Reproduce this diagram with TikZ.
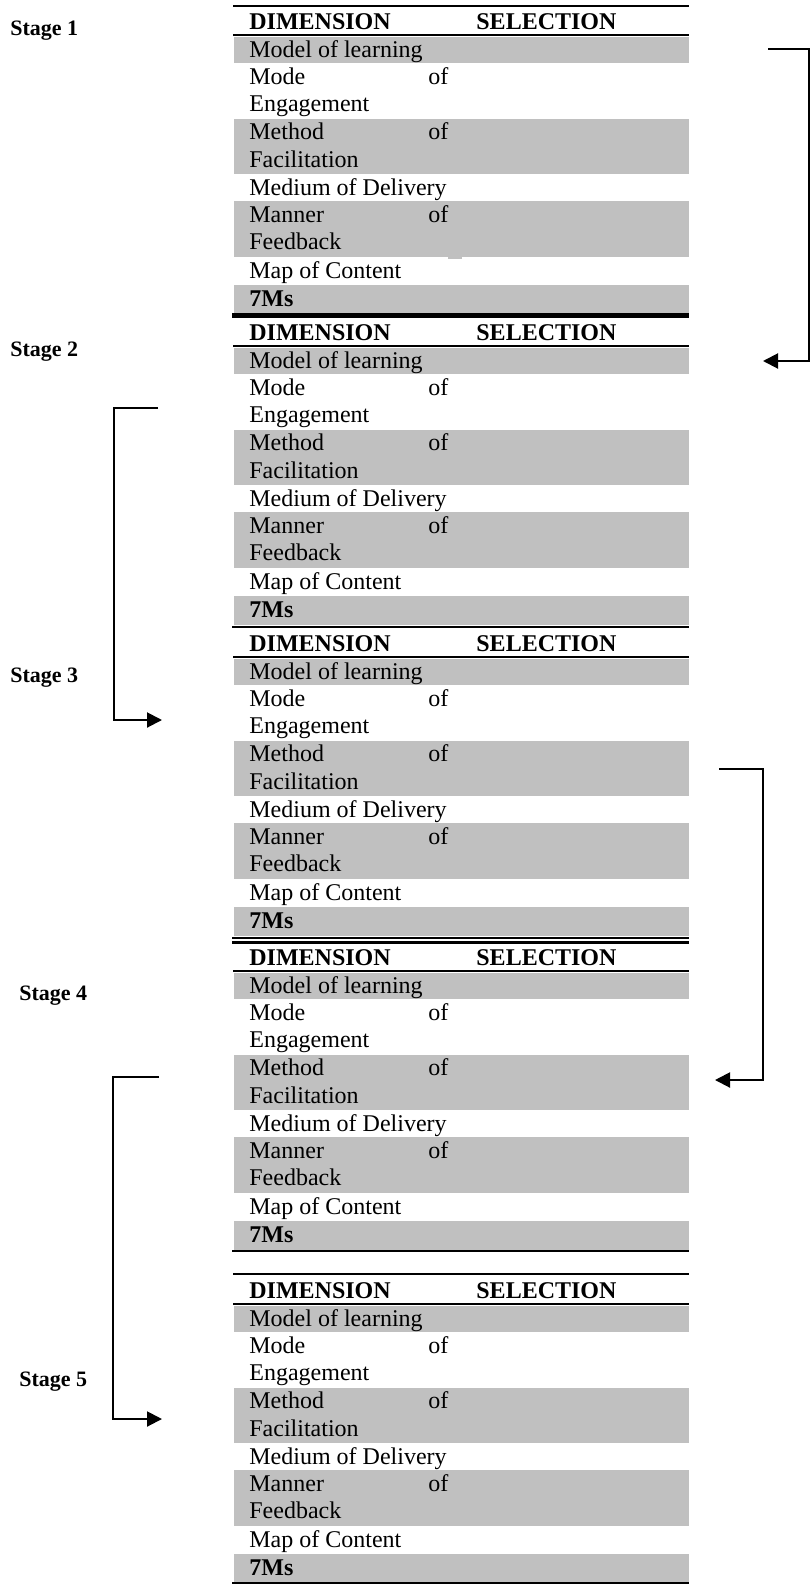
\documentclass[tikz,border=0pt]{standalone}
\usepackage{fontspec}
\setmainfont{Liberation Serif}
\usetikzlibrary{arrows.meta}
\definecolor{rowgray}{RGB}{192,192,192}

% One 7Ms selection table; #1 = y of the rule under the header row, #2 = name prefix
\newcommand{\stagetable}[2]{%
  \fill[rowgray] (234,#1+1.5) rectangle (689,#1+28);
  \fill[rowgray] (234,#1+83.5) rectangle (689,#1+139);
  \fill[rowgray] (234,#1+166) rectangle (689,#1+222);
  \fill[rowgray] (234,#1+250) rectangle (689,#1+279);
  \draw[hrule] (233,#1) -- (689,#1);
  \node[headcell] (#2-dim) at (249,#1-6) {DIMENSION};
  \node[headcell] (#2-sel) at (476,#1-6) {SELECTION};
  \node[cell] (#2-model) at (249,#1+22.5) {Model of learning};
  \node[cell] (#2-mode) at (249,#1+49) {Mode};
  \node[cell] (#2-modeof) at (428,#1+49) {of};
  \node[cell] (#2-eng) at (249,#1+76.6) {Engagement};
  \node[cell] (#2-method) at (249,#1+104.5) {Method};
  \node[cell] (#2-methodof) at (428,#1+104.5) {of};
  \node[cell] (#2-fac) at (249,#1+132) {Facilitation};
  \node[cell] (#2-medium) at (249,#1+160) {Medium of Delivery};
  \node[cell] (#2-manner) at (249,#1+187) {Manner};
  \node[cell] (#2-mannerof) at (428,#1+187) {of};
  \node[cell] (#2-fb) at (249,#1+214.6) {Feedback};
  \node[cell] (#2-map) at (249,#1+243) {Map of Content};
  \node[headcell] (#2-total) at (249,#1+271) {7Ms};
}

\begin{document}
\begin{tikzpicture}[x=0.5pt,y=-0.5pt,
  cell/.style={anchor=base west,inner sep=0pt,font=\fontsize{12}{14}\selectfont},
  headcell/.style={cell,font=\fontsize{12}{14}\selectfont\bfseries},
  stagelabel/.style={anchor=base west,inner sep=0pt,font=\fontsize{11}{13}\selectfont\bfseries},
  hrule/.style={line width=1.15pt},
  midrule/.style={line width=1.4pt},
  heavyrule/.style={line width=2.75pt},
  flow/.style={line width=1pt,-{Triangle[length=7.5pt,width=7.5pt]}}]
\useasboundingbox (0,0) rectangle (811,1585);

% tables
\draw[hrule] (233,6) -- (689,6);
\stagetable{35}{s1}
\fill[rowgray] (448,256) rectangle (462,259);
\draw[heavyrule] (232,315.5) -- (689,315.5);
\stagetable{346}{s2}
\draw[midrule] (232,627) -- (689,627);
\stagetable{657}{s3}
\draw[hrule] (232,938) -- (689,938);
\draw[hrule] (232,942.5) -- (689,942.5);
\stagetable{971}{s4}
\draw[midrule] (232,1251) -- (689,1251);
\draw[hrule] (233,1274) -- (689,1274);
\stagetable{1304}{s5}
\draw[midrule] (232,1583) -- (689,1583);

% stage labels
\node[stagelabel] (st1) at (10,35.5) {Stage 1};
\node[stagelabel] (st2) at (10,356) {Stage 2};
\node[stagelabel] (st3) at (10,682) {Stage 3};
\node[stagelabel] (st4) at (19,1000) {Stage 4};
\node[stagelabel] (st5) at (19,1386) {Stage 5};

% bracket arrows between stages
\coordinate (a1s) at (768,49);
\coordinate (a1e) at (763,361);
\draw[flow] (a1s) -- (809,49) |- (a1e);

\coordinate (a2s) at (158,408);
\coordinate (a2e) at (162,720);
\draw[flow] (a2s) -- (114,408) |- (a2e);

\coordinate (a3s) at (719,769);
\coordinate (a3e) at (715,1080);
\draw[flow] (a3s) -- (763,769) |- (a3e);

\coordinate (a4s) at (159,1077);
\coordinate (a4e) at (162,1419);
\draw[flow] (a4s) -- (113,1077) |- (a4e);
\end{tikzpicture}
\end{document}
